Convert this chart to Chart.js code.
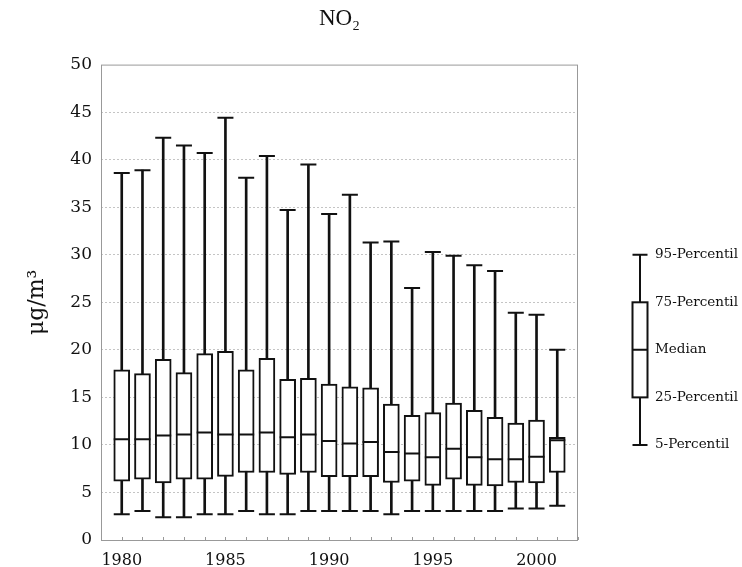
<!DOCTYPE html>
<html>
<head>
<meta charset="utf-8">
<script src="https://cdn.jsdelivr.net/npm/chart.js@4"></script>
<style>
  html, body { margin: 0; padding: 0; background: #fff; }
  #wrap { width: 742px; height: 567px; }
</style>
</head>
<body>
<div id="wrap"><canvas id="chart"></canvas></div>
<script>
// axis labels run one year past the data on each side
const xLabels = [1979, 1980, 1981, 1982, 1983, 1984, 1985, 1986, 1987, 1988, 1989, 1990,
                 1991, 1992, 1993, 1994, 1995, 1996, 1997, 1998, 1999, 2000, 2001, 2002];
const years = [1980, 1981, 1982, 1983, 1984, 1985, 1986, 1987, 1988, 1989, 1990,
               1991, 1992, 1993, 1994, 1995, 1996, 1997, 1998, 1999, 2000, 2001];

const p95 = [38.6, 38.9, 42.3, 41.5, 40.7, 44.4, 38.1, 40.4, 34.7, 39.5, 34.3,
             36.3, 31.3, 31.4, 26.5, 30.3, 29.9, 28.9, 28.3, 23.9, 23.7, 20.0];
const q3 = [17.9, 17.5, 19.0, 17.6, 19.6, 19.85, 17.9, 19.1, 16.9, 17.0, 16.4,
            16.1, 16.0, 14.3, 13.1, 13.4, 14.4, 13.65, 12.9, 12.3, 12.6, 10.8];
const median = [10.6, 10.6, 11.0, 11.1, 11.3, 11.1, 11.1, 11.3, 10.8, 11.1, 10.4,
                10.15, 10.3, 9.25, 9.1, 8.7, 9.6, 8.7, 8.5, 8.5, 8.75, 10.5];
const q1 = [6.2, 6.4, 6.0, 6.4, 6.4, 6.7, 7.1, 7.1, 6.9, 7.1, 6.65,
            6.65, 6.65, 6.05, 6.2, 5.75, 6.4, 5.75, 5.7, 6.05, 6.0, 7.1];
const p5 = [2.7, 3.05, 2.4, 2.4, 2.7, 2.7, 3.05, 2.7, 2.7, 3.05, 3.05,
            3.05, 3.05, 2.7, 3.05, 3.05, 3.05, 3.05, 3.05, 3.3, 3.3, 3.6];

// key on the right, drawn against the same y scale
const legendLabels = ['95-Percentil', '75-Percentil', 'Median', '25-Percentil', '5-Percentil'];
const legendValues = [30, 25, 20, 15, 10];

const SERIF = '"DejaVu Serif", serif';
const INK = '#111';

// helpers to spread year data onto the label positions
const pairs = (lo, hi) => years.map((y, i) => ({ x: String(y), y: [lo[i], hi[i]] }));
const points = arr => years.map((y, i) => ({ x: String(y), y: arr[i] }));

const frame = {
  id: 'frame',
  afterDraw(chart) {
    const { ctx, chartArea: a, scales } = chart;
    ctx.save();
    ctx.strokeStyle = '#999';
    ctx.lineWidth = 1;
    ctx.strokeRect(a.left + 0.5, a.top + 0.5, a.right - a.left - 1, a.bottom - a.top);
    // small inward ticks on the year axis
    xLabels.forEach((l, i) => {
      const x = Math.round(scales.x.getPixelForValue(i)) + 0.5;
      ctx.beginPath();
      ctx.moveTo(x, a.bottom);
      ctx.lineTo(x, a.bottom - 3);
      ctx.stroke();
    });

    // legend glyph
    const y = scales.y;
    const cx = a.right + 62, half = 7.5;
    const py = legendValues.map(v => y.getPixelForValue(v));
    ctx.strokeStyle = INK;
    ctx.lineWidth = 2;
    ctx.beginPath();
    ctx.moveTo(cx, py[0]); ctx.lineTo(cx, py[1]);
    ctx.moveTo(cx, py[3]); ctx.lineTo(cx, py[4]);
    ctx.moveTo(cx - half, py[0]); ctx.lineTo(cx + half, py[0]);
    ctx.moveTo(cx - half, py[4]); ctx.lineTo(cx + half, py[4]);
    ctx.moveTo(cx - half, py[2]); ctx.lineTo(cx + half, py[2]);
    ctx.stroke();
    ctx.strokeRect(cx - half, py[1], half * 2, py[3] - py[1]);

    ctx.fillStyle = INK;
    ctx.font = '13.5px ' + SERIF;
    ctx.textBaseline = 'middle';
    ctx.textAlign = 'left';
    legendLabels.forEach((t, i) => ctx.fillText(t, cx + 15, py[i]));
    ctx.restore();
  }
};

new Chart(document.getElementById('chart'), {
  type: 'bar',
  data: {
    labels: xLabels.map(String),
    datasets: [
      {
        label: 'whisker',
        data: pairs(p5, p95),
        backgroundColor: INK,
        borderWidth: 0,
        barThickness: 2,
        grouped: false,
        order: 3
      },
      {
        label: 'box',
        data: pairs(q1, q3),
        backgroundColor: '#fff',
        borderColor: INK,
        borderWidth: 2,
        borderSkipped: false,
        barThickness: 16,
        grouped: false,
        order: 2
      },
      {
        type: 'line',
        label: 'median',
        data: points(median),
        showLine: false,
        pointStyle: 'line',
        pointRadius: 8,
        pointBorderWidth: 2,
        borderColor: INK,
        order: 1
      },
      {
        type: 'line',
        label: 'p95',
        data: points(p95),
        showLine: false,
        pointStyle: 'line',
        pointRadius: 8,
        pointBorderWidth: 2,
        borderColor: INK,
        order: 1
      },
      {
        type: 'line',
        label: 'p5',
        data: points(p5),
        showLine: false,
        pointStyle: 'line',
        pointRadius: 8,
        pointBorderWidth: 2,
        borderColor: INK,
        order: 1
      }
    ]
  },
  options: {
    responsive: true,
    maintainAspectRatio: false,
    animation: false,
    layout: { padding: { left: 0, right: 164, top: 0, bottom: 0 } },
    plugins: {
      legend: { display: false },
      tooltip: { enabled: false },
      title: {
        display: true,
        text: 'NO₂',
        fullSize: false,
        color: INK,
        font: { family: '"Liberation Serif", serif', size: 23, weight: 'normal' },
        padding: { top: 5, bottom: 32 }
      }
    },
    scales: {
      x: {
        offset: false,
        grid: { display: false },
        border: { display: false },
        afterFit(s) { s.height = 27; },
        ticks: {
          autoSkip: false,
          maxRotation: 0,
          padding: 3,
          color: INK,
          font: { family: SERIF, size: 16 },
          callback: (v, i) => (xLabels[i] % 5 === 0 ? String(xLabels[i]) : '')
        }
      },
      y: {
        min: 0,
        max: 50,
        afterFit(s) { s.width = 101; },
        border: { display: false, dash: [2, 2] },
        grid: {
          drawTicks: false,
          color: c => (c.tick.value === 0 || c.tick.value === 50 ? 'rgba(0,0,0,0)' : '#c4c4c4'),
          lineWidth: 1
        },
        ticks: {
          stepSize: 5,
          padding: 9,
          color: INK,
          font: { family: SERIF, size: 17 }
        },
        title: {
          display: true,
          text: 'μg/m³',
          color: INK,
          font: { family: SERIF, size: 22, weight: 'normal' },
          padding: { top: 24, bottom: 0 }
        }
      }
    }
  },
  plugins: [frame]
});
</script>
</body>
</html>
